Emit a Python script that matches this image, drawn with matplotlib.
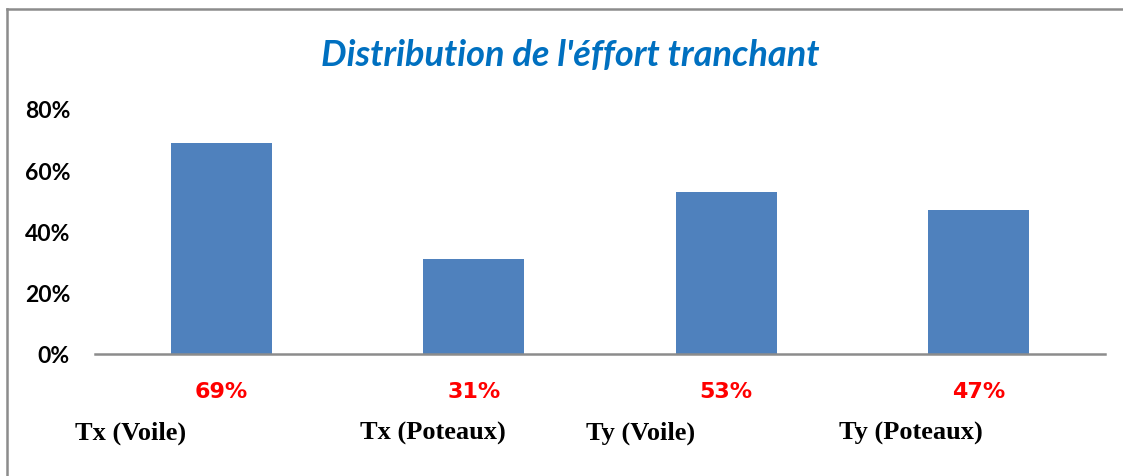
import matplotlib.pyplot as plt
from matplotlib.lines import Line2D

# data
categories = ['Tx (Voile)', 'Tx (Poteaux)', 'Ty (Voile)', 'Ty (Poteaux)']
shares = [69, 31, 53, 47]
yticks = [0, 20, 40, 60, 80]

# horizontal shift of each category label relative to its bar
label_shift = [-0.36, -0.16, -0.34, -0.27]

fig = plt.figure(figsize=(11.23, 4.77), dpi=100)
ax = fig.add_axes([95 / 1123, 1 - 355 / 477, 1010 / 1123, 245 / 477])

x = list(range(len(categories)))
ax.bar(x, shares, width=0.4, color='#4F81BD', zorder=2)

ax.set_xlim(-0.5, len(categories) - 0.5)
ax.set_ylim(0, 80)
ax.set_yticks(yticks)
ax.set_yticklabels([f'{v}%' for v in yticks], fontsize=16.5, fontweight='bold',
                   family='Lato')
ax.tick_params(axis='y', length=0, pad=18)
ax.set_xticks([])
for side in ['top', 'right', 'left']:
    ax.spines[side].set_visible(False)
ax.spines['bottom'].set_color('#8C8C8C')
ax.spines['bottom'].set_linewidth(1.8)

# value labels under each bar
for xi, v in zip(x, shares):
    ax.text(xi, -12, f'{v}%', ha='center', va='center', color='red',
            fontsize=16, fontweight='bold', family='DejaVu Sans')

# category names
for xi, name, dx in zip(x, categories, label_shift):
    ax.text(xi + dx, -25.5, name, ha='center', va='center', color='black',
            fontsize=19, fontweight='bold', family='Liberation Serif')

fig.text(570 / 1123, 1 - 55 / 477, "Distribution de l'éffort tranchant",
         ha='center', va='center', color='#0070C0', fontsize=26,
         fontweight='bold', style='italic', family='Lato')

# chart frame
fig.add_artist(Line2D([7 / 1123, 1], [1 - 10 / 477, 1 - 10 / 477],
                      color='#8C8C8C', lw=1.8))
fig.add_artist(Line2D([7 / 1123, 7 / 1123], [0, 1 - 10 / 477],
                      color='#8C8C8C', lw=1.8))

fig.savefig('out.png', dpi=100)
